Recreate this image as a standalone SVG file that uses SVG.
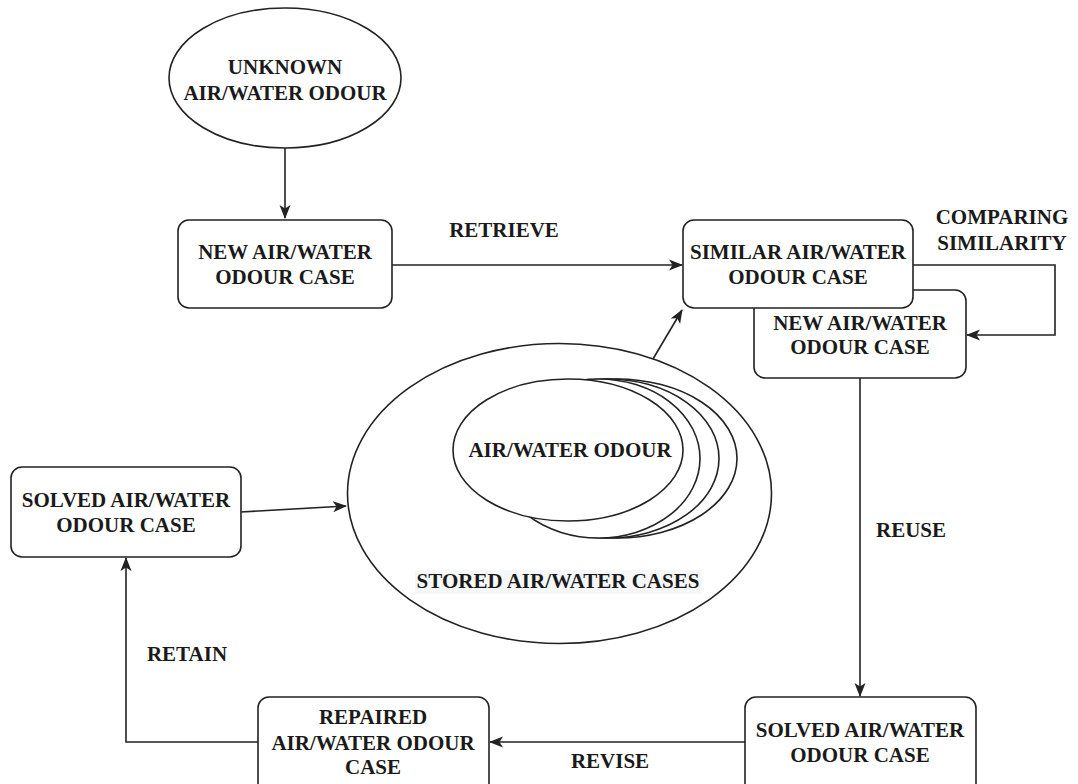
<svg xmlns="http://www.w3.org/2000/svg" width="1078" height="784" viewBox="0 0 1078 784">
<defs>
<style>
.n{fill:#fff;stroke:#222;stroke-width:1.6}
.c{fill:none;stroke:#222;stroke-width:1.6}
.t{font-weight:bold;font-size:21px;fill:#1a1a1a;text-anchor:middle}
</style>
<marker id="ah" viewBox="0 0 14 14" refX="13" refY="7" markerWidth="14" markerHeight="14" markerUnits="userSpaceOnUse" orient="auto">
<path d="M0,1.5 L14,7 L0,12.5 L3.5,7 z" fill="#222"/>
</marker>
</defs>
<rect width="1078" height="784" fill="#fff"/>

<g id="connectors">
<path class="c" d="M285,148 L285,218" marker-end="url(#ah)"/>
<path class="c" d="M392,265 L682,265" marker-end="url(#ah)"/>
<path class="c" d="M913,265 L1055,265 L1055,335 L967,335" marker-end="url(#ah)"/>
<path class="c" d="M637,386 L682,310" marker-end="url(#ah)"/>
<path class="c" d="M241,512 L346,506" marker-end="url(#ah)"/>
<path class="c" d="M860,378 L860,696" marker-end="url(#ah)"/>
<path class="c" d="M745,742 L490,742" marker-end="url(#ah)"/>
<path class="c" d="M258,742 L126,742 L126,558" marker-end="url(#ah)"/>
</g>

<g font-family="'Liberation Serif', Tinos, 'Times New Roman', 'DejaVu Serif', serif" class="t">
<g id="labels">
<text x="504" y="237">RETRIEVE</text>
<text x="1002" y="224">COMPARING</text>
<text x="1002" y="250">SIMILARITY</text>
<text x="911" y="537">REUSE</text>
<text x="610" y="768">REVISE</text>
<text x="187" y="661">RETAIN</text>
</g>

<g id="unknown">
<ellipse class="n" cx="285" cy="78" rx="116" ry="70"/>
<text x="285" y="74">UNKNOWN</text>
<text x="285" y="100">AIR/WATER ODOUR</text>
</g>

<g id="new-case">
<rect class="n" x="178" y="220" width="214" height="88" rx="11"/>
<text x="285" y="259">NEW AIR/WATER</text>
<text x="285" y="284">ODOUR CASE</text>
</g>

<g id="new-case-2">
<rect class="n" x="754" y="290" width="212" height="88" rx="11"/>
<text x="860" y="330">NEW AIR/WATER</text>
<text x="860" y="354">ODOUR CASE</text>
</g>

<g id="similar-case">
<rect class="n" x="683" y="220" width="230" height="88" rx="11"/>
<text x="798" y="259">SIMILAR AIR/WATER</text>
<text x="798" y="284">ODOUR CASE</text>
</g>

<g id="stored-cases">
<ellipse class="n" cx="559.5" cy="493.5" rx="212" ry="150"/>
<rect x="415" y="570" width="287" height="24" fill="#f6f7f9"/>
<text x="558" y="588">STORED AIR/WATER CASES</text>
</g>

<g id="air-water-odour">
<ellipse class="n" cx="617" cy="458.5" rx="120" ry="79.5"/>
<ellipse class="n" cx="608" cy="458.5" rx="111" ry="79.5"/>
<ellipse class="n" cx="598.5" cy="458.5" rx="101.5" ry="79.5"/>
<ellipse class="n" cx="568" cy="450" rx="115" ry="71"/>
<text x="570" y="457">AIR/WATER ODOUR</text>
</g>

<g id="solved-left">
<rect class="n" x="11" y="467" width="230" height="90" rx="11"/>
<text x="126" y="507">SOLVED AIR/WATER</text>
<text x="126" y="532">ODOUR CASE</text>
</g>

<g id="repaired">
<rect class="n" x="258" y="697" width="231" height="100" rx="11"/>
<text x="373" y="724">REPAIRED</text>
<text x="373" y="750">AIR/WATER ODOUR</text>
<text x="373" y="774">CASE</text>
</g>

<g id="solved-right">
<rect class="n" x="745" y="697" width="231" height="100" rx="11"/>
<text x="860" y="737">SOLVED AIR/WATER</text>
<text x="860" y="762">ODOUR CASE</text>
</g>
</g>
</svg>
